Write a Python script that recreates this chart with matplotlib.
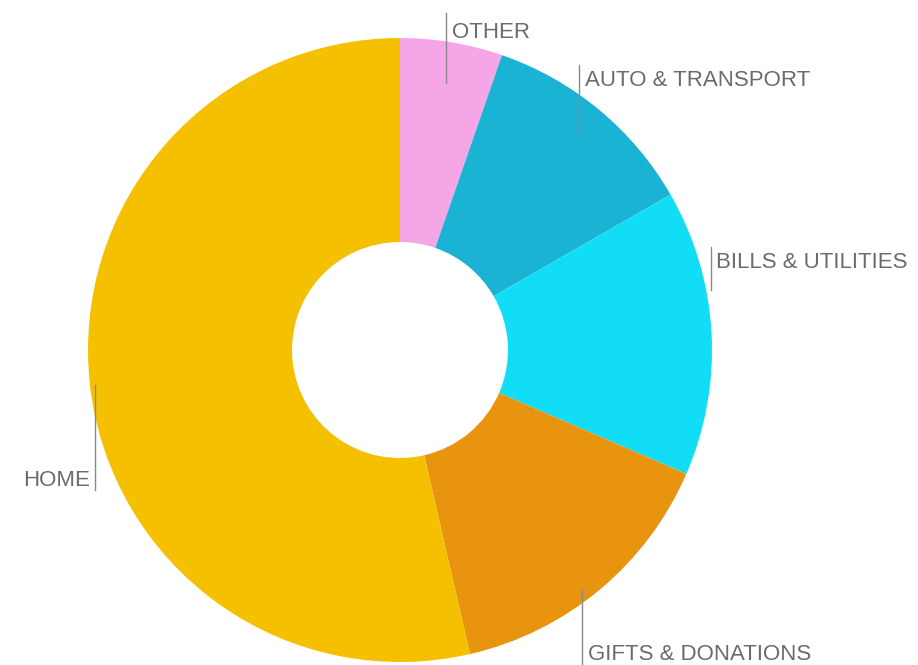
import matplotlib.pyplot as plt

# categorias y porcentajes (sentido horario desde arriba)
categorias = ['OTHER', 'AUTO & TRANSPORT', 'BILLS & UTILITIES', 'GIFTS & DONATIONS', 'HOME']
valores = [5.3, 11.4, 14.8, 14.9, 53.6]
colores = ['#F5A6E6', '#1BB3D3', '#12DDF6', '#E8940F', '#F4C000']

fig = plt.figure(figsize=(9.18, 6.65), dpi=100)
ax = fig.add_axes([0, 0, 1, 1])
ax.set_xlim(0, 918)
ax.set_ylim(0, 665)
ax.set_aspect('equal')
ax.axis('off')

# dona
ax.pie(valores, colors=colores, startangle=90, counterclock=False,
       center=(400, 315), radius=312,
       wedgeprops=dict(width=312 - 108, linewidth=0))
ax.set_xlim(0, 918)
ax.set_ylim(0, 665)

# etiquetas con su linea vertical
gris = '#6b6b6b'
lineas = {
    'OTHER': (446, 582, 652),
    'AUTO & TRANSPORT': (579, 530, 600),
    'BILLS & UTILITIES': (711, 375, 418),
    'GIFTS & DONATIONS': (582, 0, 75),
    'HOME': (95, 175, 280),
}
textos = {
    'OTHER': (452, 633, 'left'),
    'AUTO & TRANSPORT': (585, 585, 'left'),
    'BILLS & UTILITIES': (716, 403, 'left'),
    'GIFTS & DONATIONS': (588, 10, 'left'),
    'HOME': (90, 185, 'right'),
}
for c in categorias:
    x, y0, y1 = lineas[c]
    ax.plot([x, x], [y0, y1], color='#8a8a8a', lw=1)
    tx, ty, ha = textos[c]
    ax.text(tx, ty, c, color=gris, fontsize=16, ha=ha, va='center',
            family='Liberation Sans')

plt.savefig('out.png', dpi=100)
